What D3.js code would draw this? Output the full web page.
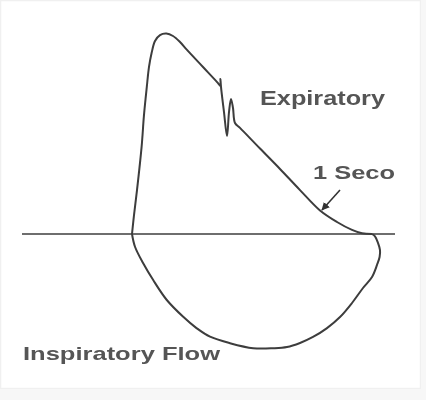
<!DOCTYPE html>
<html>
<head>
<meta charset="utf-8">
<script src="https://cdn.jsdelivr.net/npm/d3@7"></script>
<style>
  html, body { margin: 0; padding: 0; background: #fff; }
  svg { display: block; }
</style>
</head>
<body>
<script>
// Expiratory limb: volume (L) and flow (L/s)
const expVolume = [0.00, 0.05, 0.125, 0.24, 0.30, 0.37, 0.425, 0.49, 0.575, 0.70, 0.86, 1.025, 1.20, 1.375, 1.775, 2.15, 2.21, 2.21, 2.225, 2.30, 2.375, 2.425, 2.475, 2.525, 2.575, 2.70, 3.20, 3.70, 4.20, 4.70, 5.125, 5.50, 5.75, 6.00];
const expFlow   = [0.00, 0.79, 1.83, 3.63, 4.96, 6.13, 6.96, 7.54, 8.04, 8.29, 8.35, 8.25, 8.00, 7.67, 6.96, 6.29, 6.17, 6.46, 6.13, 5.08, 4.08, 5.08, 5.63, 5.25, 4.625, 4.42, 3.56, 2.71, 1.83, 0.98, 0.50, 0.17, 0.03, 0.00];
// Inspiratory limb
const insVolume = [6.00, 6.075, 6.15, 6.20, 6.19, 6.125, 6.00, 5.775, 5.50, 5.20, 4.875, 4.525, 4.20, 3.875, 3.53, 3.03, 2.45, 1.95, 1.62, 1.28, 0.87, 0.53, 0.28, 0.075, 0.00];
const insFlow   = [0.00, -0.10, -0.375, -0.67, -0.96, -1.29, -1.79, -2.25, -2.875, -3.46, -3.92, -4.29, -4.54, -4.71, -4.76, -4.76, -4.55, -4.28, -3.93, -3.45, -2.75, -1.92, -1.22, -0.53, 0.00];
// Zero-flow axis extent
const axisVolume = [-2.75, 6.575];
// Labels
const labelExp = "Expiratory";
const labelIns = "Inspiratory Flow";
const labelSec = "1 Seco";
// Arrow (1 second marker): from -> to in [volume, flow]
const arrowFrom = [5.2, 1.83];
const arrowTo = [4.75, 1.0];

const W = 426, H = 400;
const x = d3.scaleLinear().domain([0, 6]).range([132, 372]);
const y = d3.scaleLinear().domain([0, 8]).range([234, 42]);

const svg = d3.select("body").append("svg").attr("width", W).attr("height", H);

const defs = svg.append("defs");
defs.append("filter").attr("id", "soft").attr("x", "-5%").attr("y", "-5%").attr("width", "110%").attr("height", "110%")
  .append("feGaussianBlur").attr("stdDeviation", 0.55);
defs.append("marker").attr("id", "head").attr("viewBox", "0 0 10 10")
  .attr("refX", 9).attr("refY", 5).attr("markerWidth", 5).attr("markerHeight", 5)
  .attr("orient", "auto")
  .append("path").attr("d", "M0,0 L10,5 L0,10 z").attr("fill", "#333");

// faint frame
svg.append("rect").attr("x", 0.5).attr("y", 0.5).attr("width", 420).attr("height", 388)
  .attr("fill", "none").attr("stroke", "#f0f0f0").attr("stroke-width", 1.5);
svg.append("rect").attr("x", 421).attr("y", 0).attr("width", 5).attr("height", H).attr("fill", "#f7f7f7");
svg.append("rect").attr("x", 0).attr("y", 389).attr("width", W).attr("height", 11).attr("fill", "#f7f7f7");

const g = svg.append("g").attr("filter", "url(#soft)");

// zero-flow axis
g.append("line")
  .attr("x1", x(axisVolume[0])).attr("x2", x(axisVolume[1]))
  .attr("y1", y(0)).attr("y2", y(0))
  .attr("stroke", "#6e6e6e").attr("stroke-width", 1.8);

const line = d3.line().x(d => x(d[0])).y(d => y(d[1])).curve(d3.curveCatmullRom.alpha(0.5));

const expData = expVolume.map((v, i) => [v, expFlow[i]]);
const insData = insVolume.map((v, i) => [v, insFlow[i]]);

g.append("path").attr("d", line(expData))
  .attr("fill", "none").attr("stroke", "#3c3c3c").attr("stroke-width", 2).attr("stroke-linejoin", "round");
g.append("path").attr("d", line(insData))
  .attr("fill", "none").attr("stroke", "#3c3c3c").attr("stroke-width", 2).attr("stroke-linejoin", "round");

// arrow
g.append("line")
  .attr("x1", x(arrowFrom[0])).attr("y1", y(arrowFrom[1]))
  .attr("x2", x(arrowTo[0])).attr("y2", y(arrowTo[1]))
  .attr("stroke", "#333").attr("stroke-width", 1.6).attr("marker-end", "url(#head)");

// labels
const font = "'Liberation Sans', Arial, sans-serif";
g.append("text").text(labelExp)
  .attr("x", 260).attr("y", 105)
  .attr("font-family", font).attr("font-size", 21).attr("font-weight", "bold")
  .attr("fill", "#555").attr("textLength", 125).attr("lengthAdjust", "spacingAndGlyphs");
g.append("text").text(labelSec)
  .attr("x", 313).attr("y", 179)
  .attr("font-family", font).attr("font-size", 19).attr("font-weight", "bold")
  .attr("fill", "#555").attr("textLength", 82).attr("lengthAdjust", "spacingAndGlyphs");
g.append("text").text(labelIns)
  .attr("x", 23).attr("y", 360)
  .attr("font-family", font).attr("font-size", 19).attr("font-weight", "bold")
  .attr("fill", "#555").attr("textLength", 197).attr("lengthAdjust", "spacingAndGlyphs");
</script>
</body>
</html>
